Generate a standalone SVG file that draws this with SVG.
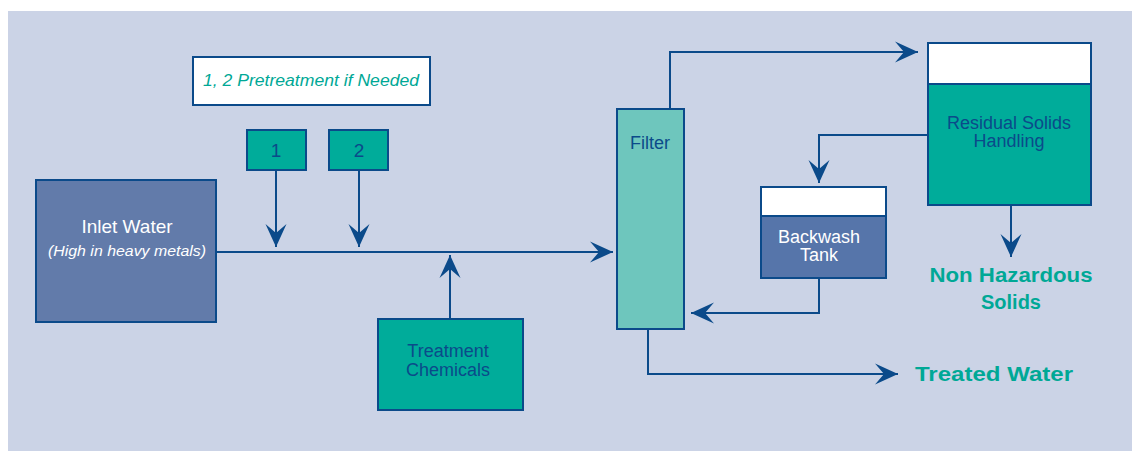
<svg xmlns="http://www.w3.org/2000/svg" width="1132" height="451" viewBox="0 0 1132 451">
<style>
.box{stroke:#0B4A8A;stroke-width:2}
.ln{fill:none;stroke:#0B4A8A;stroke-width:2}
.t{font-family:"Liberation Sans",Arial,sans-serif;text-anchor:middle}
.dk{fill:#0B4A8A}
.wh{fill:#ffffff}
.tl{fill:#00A896;font-weight:bold}
</style>
<defs>
<marker id="ah" markerUnits="userSpaceOnUse" markerWidth="28" markerHeight="26" viewBox="-26 -13 28 26" refX="0" refY="0" orient="auto">
<path d="M0,0 L-23,-10.5 L-14,0 L-23,10.5 Z" fill="#0B4A8A"/>
</marker>
</defs>
<rect x="8" y="11" width="1124" height="440" fill="#CBD3E6"/>
<g id="connectors">
<line class="ln" x1="216" y1="252" x2="613" y2="252" marker-end="url(#ah)"/>
<line class="ln" x1="276" y1="170" x2="276" y2="247" marker-end="url(#ah)"/>
<line class="ln" x1="359" y1="170" x2="359" y2="247" marker-end="url(#ah)"/>
<line class="ln" x1="450" y1="319" x2="450" y2="255" marker-end="url(#ah)"/>
<polyline class="ln" points="670,109 670,52 918,52" marker-end="url(#ah)"/>
<polyline class="ln" points="928,135 819,135 819,183" marker-end="url(#ah)"/>
<polyline class="ln" points="819,278 819,313 691,313" marker-end="url(#ah)"/>
<line class="ln" x1="1011" y1="205" x2="1011" y2="257" marker-end="url(#ah)"/>
<polyline class="ln" points="648,329 648,374 898,374" marker-end="url(#ah)"/>
</g>
<g id="pretreatment-note">
<rect class="box" x="193" y="57" width="237" height="48" fill="#ffffff"/>
<text class="t" x="311" y="86" font-size="17" font-style="italic" fill="#00A896" textLength="216" lengthAdjust="spacingAndGlyphs">1, 2 Pretreatment if Needed</text>
</g>
<g id="pretreat-1">
<rect class="box" x="247" y="130" width="59" height="40" fill="#00AC9A"/>
<text class="t dk" x="276" y="157" font-size="19">1</text>
</g>
<g id="pretreat-2">
<rect class="box" x="329" y="130" width="59" height="40" fill="#00AC9A"/>
<text class="t dk" x="359" y="157" font-size="19">2</text>
</g>
<g id="inlet-water">
<rect class="box" x="36" y="180" width="180" height="142" fill="#627BAA"/>
<text class="t wh" x="127" y="233" font-size="19">Inlet Water</text>
<text class="t wh" x="127" y="256" font-size="15" font-style="italic" textLength="158" lengthAdjust="spacingAndGlyphs">(High in heavy metals)</text>
</g>
<g id="treatment-chemicals">
<rect class="box" x="378" y="319" width="145" height="91" fill="#00AC9A"/>
<text class="t dk" x="448" y="357" font-size="18">Treatment</text>
<text class="t dk" x="448" y="376" font-size="18">Chemicals</text>
</g>
<g id="filter">
<rect class="box" x="617" y="109" width="67" height="220" fill="#6EC6BD"/>
<text class="t dk" x="650" y="149" font-size="18">Filter</text>
</g>
<g id="residual-solids">
<rect class="box" x="928" y="43" width="163" height="162" fill="#00AC9A"/>
<rect class="box" x="928" y="43" width="163" height="41" fill="#ffffff"/>
<text class="t dk" x="1009" y="129" font-size="18">Residual Solids</text>
<text class="t dk" x="1009" y="147" font-size="18">Handling</text>
</g>
<g id="backwash-tank">
<rect class="box" x="761" y="187" width="125" height="91" fill="#5675AA"/>
<rect class="box" x="761" y="187" width="125" height="29" fill="#ffffff"/>
<text class="t wh" x="819" y="243" font-size="18">Backwash</text>
<text class="t wh" x="819" y="261" font-size="18">Tank</text>
</g>
<g id="non-hazardous-solids">
<text class="t tl" x="1011" y="282" font-size="20" textLength="163" lengthAdjust="spacingAndGlyphs">Non Hazardous</text>
<text class="t tl" x="1011" y="309" font-size="20">Solids</text>
</g>
<g id="treated-water">
<text class="tl" x="915" y="381" font-size="20" font-family="Liberation Sans, Arial, sans-serif" textLength="158" lengthAdjust="spacingAndGlyphs">Treated Water</text>
</g>
</svg>
